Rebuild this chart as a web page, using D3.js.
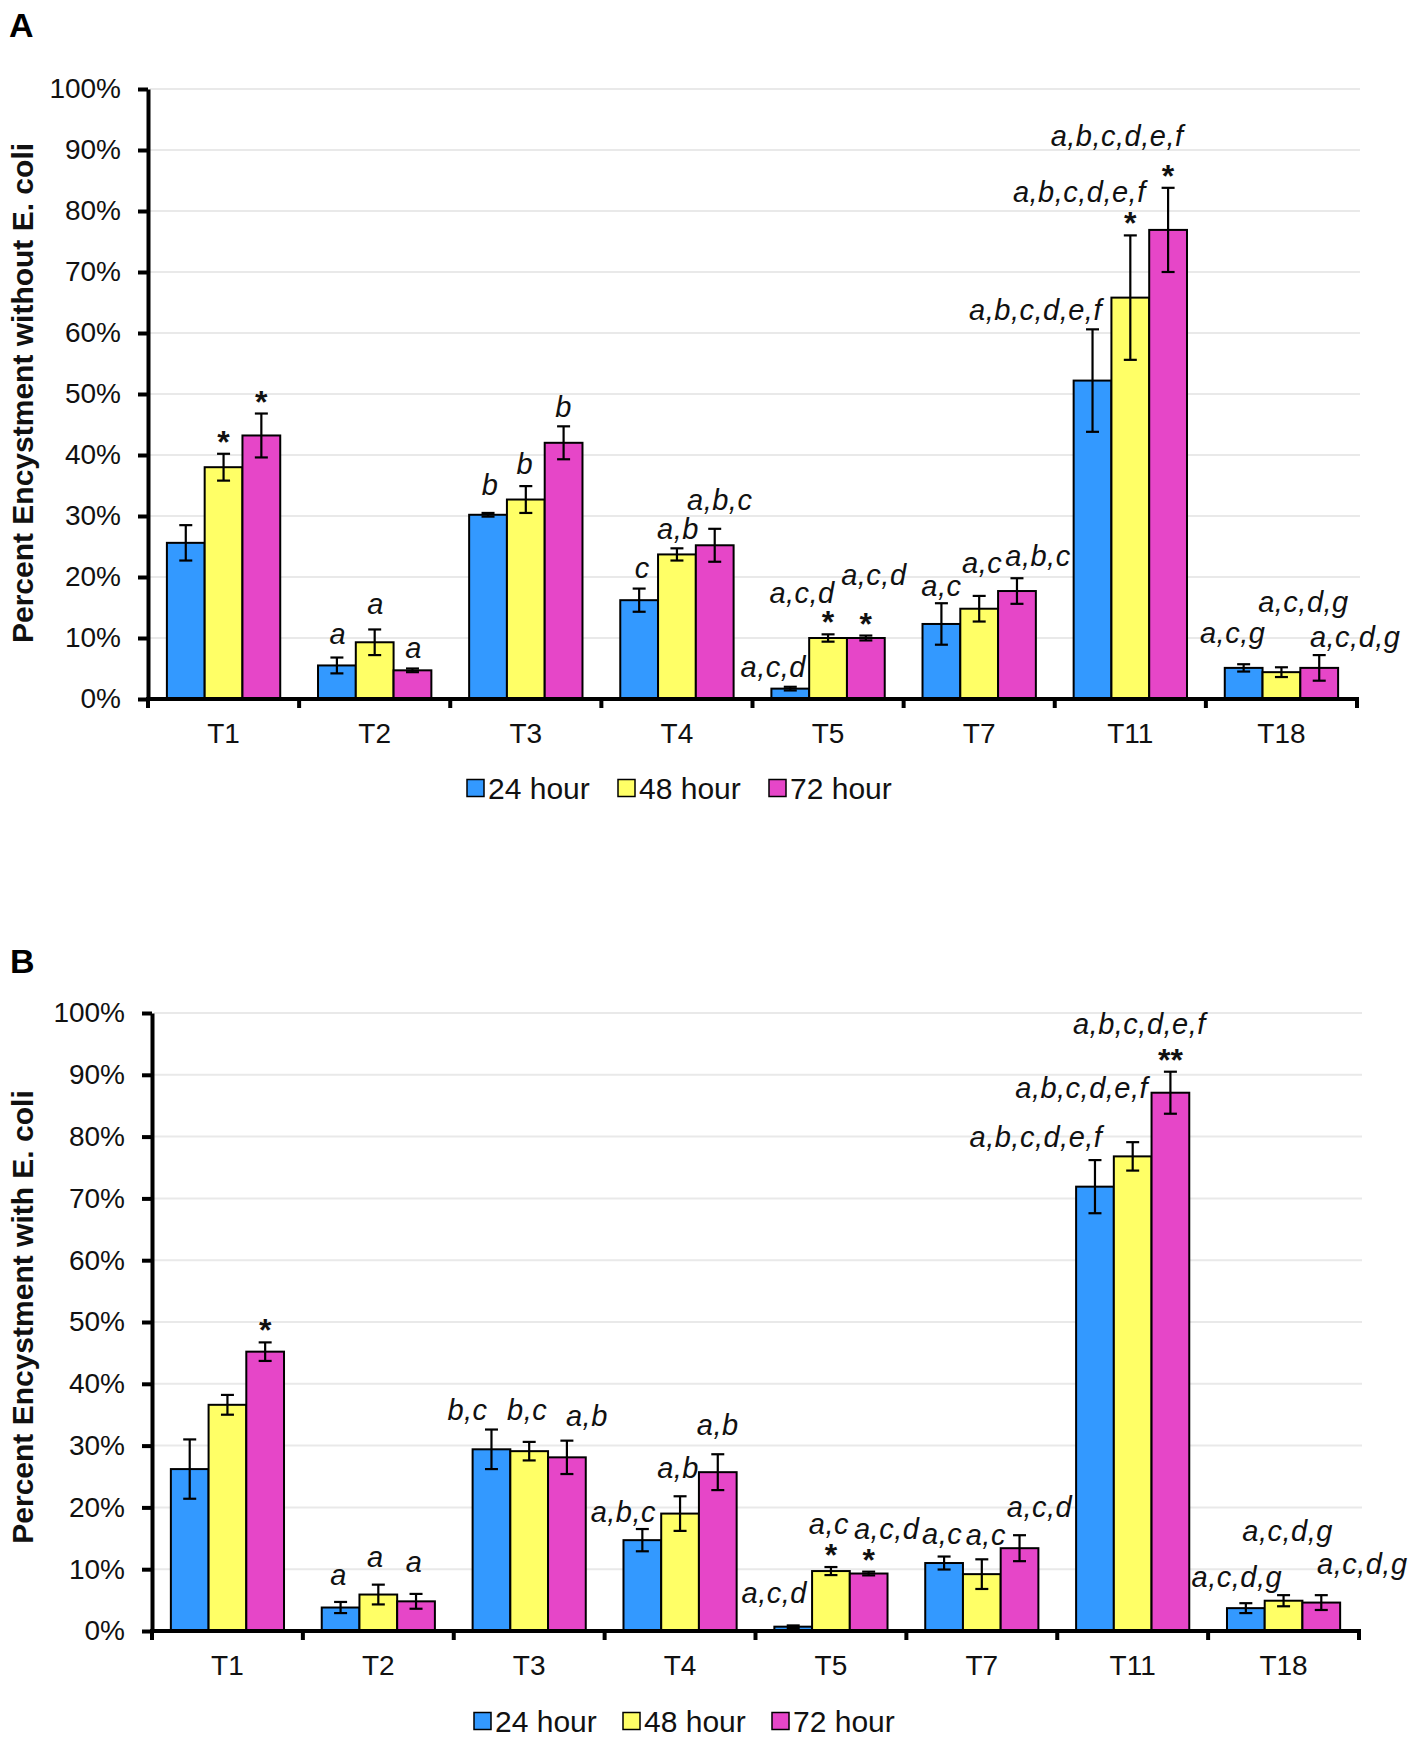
<!DOCTYPE html>
<html><head><meta charset="utf-8">
<script src="https://cdn.jsdelivr.net/npm/d3@7"></script>
<style>
body{margin:0;background:#fff}
text{font-family:"Liberation Sans",Arial,sans-serif}
</style>
</head><body>
<svg id="chart" width="1417" height="1742"></svg>
<script>
// ---------------- data ----------------
const categories = ["T1","T2","T3","T4","T5","T7","T11","T18"];
const seriesNames = ["24 hour","48 hour","72 hour"];
const yTicks = [0,10,20,30,40,50,60,70,80,90,100];

// Panel A: without E. coli (percent)
const h24A = [25.6, 5.5, 30.2, 16.2, 1.7, 12.3, 52.2, 5.1];
const h48A = [38.0, 9.3, 32.7, 23.7, 10.0, 14.8, 65.8, 4.4];
const h72A = [43.2, 4.7, 42.0, 25.2, 10.0, 17.7, 76.9, 5.1];
const e24A = [2.9, 1.3, 0.3, 1.9, 0.3, 3.4, 8.4, 0.6];
const e48A = [2.2, 2.1, 2.2, 1.0, 0.6, 2.1, 10.2, 0.8];
const e72A = [3.6, 0.3, 2.7, 2.7, 0.4, 2.1, 6.9, 2.1];
const let24A = ["", "a", "b", "c", "a,c,d", "a,c", "a,b,c,d,e,f", "a,c,g"];
const let48A = ["", "a", "b", "a,b", "a,c,d", "a,c", "a,b,c,d,e,f", "a,c,d,g"];
const let72A = ["", "a", "b", "a,b,c", "a,c,d", "a,b,c", "a,b,c,d,e,f", "a,c,d,g"];
const star24A = ["", "", "", "", "", "", "", ""];
const star48A = ["*", "", "", "", "*", "", "*", ""];
const star72A = ["*", "", "", "", "*", "", "*", ""];

// Panel B: with E. coli (percent)
const h24B = [26.2, 3.8, 29.4, 14.7, 0.7, 11.0, 71.9, 3.7];
const h48B = [36.6, 5.9, 29.1, 19.0, 9.7, 9.2, 76.8, 4.9];
const h72B = [45.2, 4.8, 28.1, 25.7, 9.3, 13.4, 87.1, 4.6];
const e24B = [4.8, 0.9, 3.2, 1.8, 0.2, 1.05, 4.3, 0.8];
const e48B = [1.6, 1.6, 1.5, 2.8, 0.65, 2.4, 2.3, 0.9];
const e72B = [1.5, 1.2, 2.7, 2.9, 0.3, 2.1, 3.4, 1.2];
const let24B = ["", "a", "b,c", "a,b,c", "a,c,d", "a,c", "a,b,c,d,e,f", "a,c,d,g"];
const let48B = ["", "a", "b,c", "a,b", "a,c", "a,c", "a,b,c,d,e,f", "a,c,d,g"];
const let72B = ["", "a", "a,b", "a,b", "a,c,d", "a,c,d", "a,b,c,d,e,f", "a,c,d,g"];
const star24B = ["", "", "", "", "", "", "", ""];
const star48B = ["", "", "", "", "*", "", "", ""];
const star72B = ["*", "", "", "", "*", "", "**", ""];

// ---------------- layout / style ----------------
const colors = ["#3399ff", "#ffff66", "#e646c8"];
// annotation placement: [dx from bar centre, gap above error-bar top]
const placeA = [
  [[0,0],[1,14],[2,18],[3,11],[-17,10],[0,7],[-57,9],[-11,21]],
  [[0,0],[1,15],[-1,12],[1,9],[-26,31],[3,23],[-51,33],[22,55]],
  [[0,0],[1,11],[0,9],[5,19],[8,51],[21,12],[-51,42],[36,8]]
];
const placeB = [
  [[0,0],[-2,17],[-24,10],[-19,7],[-19,22],[-2,13],[-59,13],[-9,16]],
  [[0,0],[-3,18],[-2,22],[-2,18],[-2,33],[4,14],[-51,44],[4,54]],
  [[0,0],[-2,22],[20,15],[0,19],[18,33],[20,18],[-31,38],[41,21]]
];

const svg = d3.select("#chart");
svg.append("rect").attr("width",1417).attr("height",1742).attr("fill","#fff");

function drawPanel(p) {
  const g = svg.append("g");
  const x = d3.scaleBand().domain(categories).range([p.left, p.right])
    .paddingInner(0.25).paddingOuter(0.125);
  const xs = d3.scaleBand().domain(seriesNames).range([0, x.bandwidth()]);
  const y = d3.scaleLinear().domain([0,100]).range([p.bottom, p.top]);

  // gridlines
  g.append("g").selectAll("line").data(yTicks.filter(d => d > 0)).join("line")
    .attr("x1", p.left + 2).attr("x2", p.gridEnd)
    .attr("y1", d => y(d)).attr("y2", d => y(d))
    .attr("stroke", "#e9e9e9").attr("stroke-width", 2);

  const rows = [];
  p.series.forEach((s, si) => {
    categories.forEach((c, ci) => {
      rows.push({c, si, v: s.vals[ci], e: s.errs[ci], lab: s.lets[ci], star: s.stars[ci],
                 pl: p.place[si][ci]});
    });
  });
  const cx = d => x(d.c) + xs(seriesNames[d.si]) + xs.bandwidth() / 2;

  // bars
  g.append("g").selectAll("rect").data(rows).join("rect")
    .attr("x", d => x(d.c) + xs(seriesNames[d.si]))
    .attr("width", xs.bandwidth())
    .attr("y", d => y(d.v))
    .attr("height", d => y(0) - y(d.v))
    .attr("fill", d => colors[d.si])
    .attr("stroke", "#000").attr("stroke-width", 2);

  // error bars
  const eb = g.append("g").attr("stroke", "#000").attr("stroke-width", 2.2);
  rows.forEach(d => {
    const x0 = cx(d), yt = y(d.v + d.e), yb = y(d.v - d.e);
    eb.append("line").attr("x1", x0).attr("x2", x0).attr("y1", yt).attr("y2", yb);
    eb.append("line").attr("x1", x0 - 6.5).attr("x2", x0 + 6.5).attr("y1", yt).attr("y2", yt);
    eb.append("line").attr("x1", x0 - 6.5).attr("x2", x0 + 6.5).attr("y1", yb).attr("y2", yb);
  });

  // stars
  g.append("g").selectAll("text").data(rows.filter(d => d.star)).join("text")
    .attr("x", d => cx(d)).attr("y", d => y(d.v + d.e) - 1)
    .attr("text-anchor", "middle").attr("font-size", 32).attr("font-weight", "bold")
    .attr("fill", "#111")
    .text(d => d.star);

  // letters
  g.append("g").selectAll("text").data(rows.filter(d => d.lab)).join("text")
    .attr("x", d => cx(d) + d.pl[0]).attr("y", d => y(d.v + d.e) - d.pl[1])
    .attr("text-anchor", "middle").attr("font-size", 29).attr("font-style", "italic")
    .attr("letter-spacing", "0.5px").attr("fill", "#111")
    .text(d => d.lab);

  // y axis
  const ya = g.append("g").attr("transform", `translate(${p.left},0)`)
    .call(d3.axisLeft(y).tickValues(yTicks).tickFormat(d => d + "%")
      .tickSize(10).tickSizeOuter(0).tickPadding(17));
  ya.select(".domain").attr("stroke-width", 4).attr("stroke", "#000");
  ya.selectAll(".tick line").attr("stroke-width", 4).attr("stroke", "#000");
  ya.selectAll(".tick text").attr("font-size", 28).attr("fill", "#111")
    .style("font-family", '"Liberation Sans",Arial,sans-serif');

  // x axis
  const xa = g.append("g").attr("transform", `translate(0,${p.bottom})`)
    .call(d3.axisBottom(x).tickSize(0).tickPadding(24));
  xa.select(".domain").attr("stroke-width", 4).attr("stroke", "#000")
    .attr("d", `M${p.left - 2},0H${p.right + 2}`);
  xa.selectAll(".tick text").attr("font-size", 28).attr("fill", "#111")
    .style("font-family", '"Liberation Sans",Arial,sans-serif');
  const bounds = categories.map(c => x(c) - x.step() * 0.125).concat([p.right]);
  xa.append("g").selectAll("line").data(bounds).join("line")
    .attr("x1", d => d).attr("x2", d => d).attr("y1", 0).attr("y2", 9)
    .attr("stroke", "#000").attr("stroke-width", 4);

  // y title
  g.append("text")
    .attr("transform", `translate(${p.titleX},${p.titleY}) rotate(-90)`)
    .attr("text-anchor", "middle").attr("font-size", 30).attr("font-weight", "bold")
    .attr("fill", "#111").text(p.title);

  // panel label
  g.append("text").attr("x", p.labelX).attr("y", p.labelY)
    .attr("font-size", 34).attr("font-weight", "bold").text(p.label);

  // legend
  const lg = g.append("g");
  seriesNames.forEach((s, i) => {
    const lx = p.legendX + i * p.legendStep;
    lg.append("rect").attr("x", lx).attr("y", p.legendY - 8.5).attr("width", 17).attr("height", 17)
      .attr("fill", colors[i]).attr("stroke", "#000").attr("stroke-width", 1.5);
    lg.append("text").attr("x", lx + 21).attr("y", p.legendY + 11)
      .attr("font-size", 30).attr("fill", "#111").text(s);
  });
}

drawPanel({
  left: 148, right: 1357, top: 89, bottom: 699, gridEnd: 1360,
  label: "A", labelX: 9, labelY: 37,
  title: "Percent Encystment without E. coli", titleX: 33, titleY: 393,
  legendX: 467, legendY: 788, legendStep: 151,
  place: placeA,
  series: [
    {vals: h24A, errs: e24A, lets: let24A, stars: star24A},
    {vals: h48A, errs: e48A, lets: let48A, stars: star48A},
    {vals: h72A, errs: e72A, lets: let72A, stars: star72A}
  ]
});

drawPanel({
  left: 152, right: 1359, top: 1013, bottom: 1631, gridEnd: 1362,
  label: "B", labelX: 10, labelY: 973,
  title: "Percent Encystment with E. coli", titleX: 33, titleY: 1317,
  legendX: 474, legendY: 1721, legendStep: 149,
  place: placeB,
  series: [
    {vals: h24B, errs: e24B, lets: let24B, stars: star24B},
    {vals: h48B, errs: e48B, lets: let48B, stars: star48B},
    {vals: h72B, errs: e72B, lets: let72B, stars: star72B}
  ]
});
</script>
</body></html>
